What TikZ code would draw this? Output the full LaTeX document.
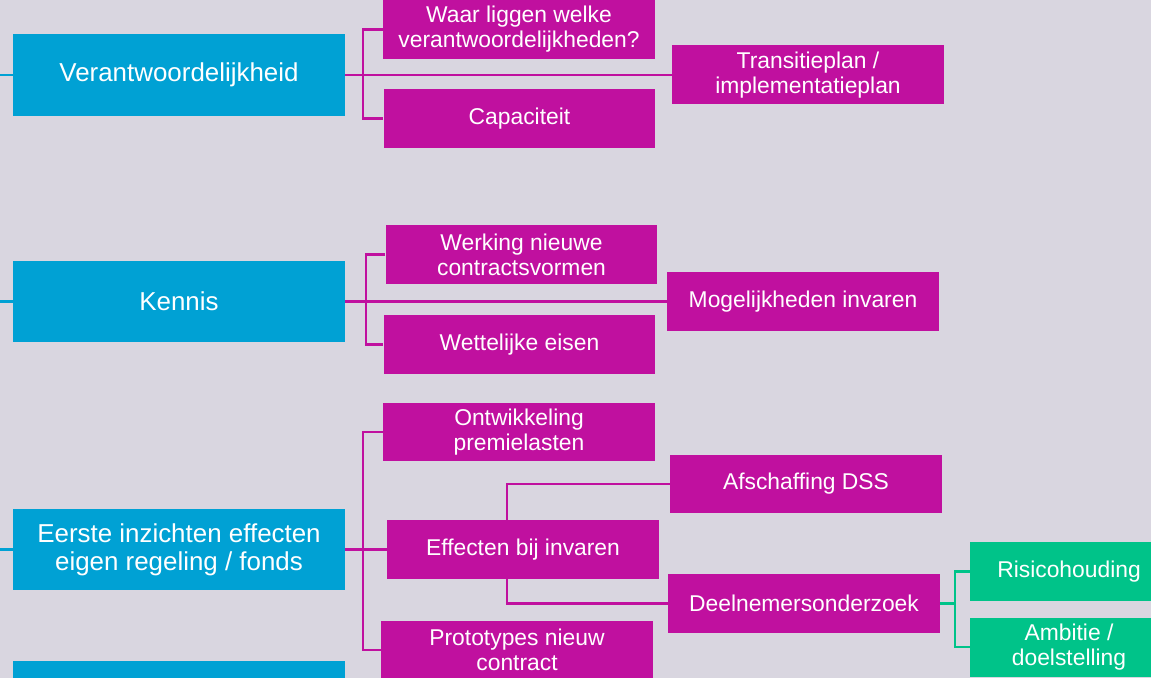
\documentclass[tikz,border=0pt]{standalone}
\usepackage{fontspec}
\setmainfont{Liberation Sans}
\definecolor{achter}{RGB}{217,214,224}
\definecolor{blauw}{RGB}{0,161,212}
\definecolor{paars}{RGB}{192,16,159}
\definecolor{groen}{RGB}{0,195,137}
\begin{document}
\begin{tikzpicture}[
  x=0.02cm, y=-0.02cm,
  bluebox/.style={rectangle, fill=blauw, text=white, inner sep=0pt, align=center,
    minimum width=6.64cm, minimum height=1.64cm, font=\fontsize{14.75}{15.9}\selectfont},
  pinkbox/.style={rectangle, fill=paars, text=white, inner sep=0pt, align=center,
    minimum width=5.44cm, minimum height=1.18cm, font=\fontsize{13}{14.2}\selectfont},
  greenbox/.style={pinkbox, fill=groen, minimum width=3.96cm},
  bluelink/.style={line width=1.4pt, draw=blauw},
  pinklink/.style={line width=1.4pt, draw=paars},
  greenlink/.style={line width=1.4pt, draw=groen}
]

  % Achtergrond en kader
  \clip (0,0) rectangle (1151,678);
  \fill[achter] (0,0) rectangle (1151,678);

  % Hoofdthema's
  \node[bluebox] (b1) at (179,75) {Verantwoordelijkheid};
  \node[bluebox] (b2) at (179,301.5) {Kennis};
  \node[bluebox] (b3) at (179,549.5) {Eerste inzichten effecten\\eigen regeling / fonds};
  \node[bluebox] (b4) at (179,702) {};

  % Deelonderwerpen
  \node[pinkbox] (waar) at (519,29.5) {Waar liggen welke\\verantwoordelijkheden?};
  \node[pinkbox] (capa) at (519.5,118.5) {Capaciteit};
  \node[pinkbox] (trans) at (808,75) {Transitieplan /\\implementatieplan};

  \node[pinkbox] (werk) at (521.5,254.5) {Werking nieuwe\\contractsvormen};
  \node[pinkbox] (wett) at (519.5,344.5) {Wettelijke eisen};
  \node[pinkbox] (moge) at (803,301.5) {Mogelijkheden invaren};

  \node[pinkbox] (ontw) at (519,432) {Ontwikkeling\\premielasten};
  \node[pinkbox] (eff) at (523,549.5) {Effecten bij invaren};
  \node[pinkbox] (proto) at (517,650) {Prototypes nieuw\\contract};
  \node[pinkbox] (afsch) at (806,484) {Afschaffing DSS};
  \node[pinkbox] (deel) at (804,603.5) {Deelnemersonderzoek};

  \node[greenbox] (risi) at (1069,571.5) {Risicohouding};
  \node[greenbox] (ambi) at (1069,647) {Ambitie /\\doelstelling};

  % Hulppunten voor de vertakkingen
  \coordinate (l1) at (0,75);
  \coordinate (l2) at (0,301.5);
  \coordinate (l3) at (0,549.5);
  \coordinate (l4) at (0,702);
  \coordinate (j1) at (363,75);
  \coordinate (j2) at (366,301.5);
  \coordinate (j3) at (363,549.5);
  \coordinate (e1) at (507,0);
  \coordinate (g1) at (955,603.5);

  % Verbindingen
  \draw[bluelink] (l1) -- (b1);
  \draw[bluelink] (l2) -- (b2);
  \draw[bluelink] (l3) -- (b3);
  \draw[bluelink] (l4) -- (b4);

  \draw[pinklink] (b1.east) -- (trans.west);
  \draw[pinklink] (waar.west) -| (j1) |- (capa.west);

  \draw[pinklink] (b2.east) -- (moge.west);
  \draw[pinklink] (werk.west) -| (j2) |- (wett.west);

  \draw[pinklink] (b3.east) -- (eff.west);
  \draw[pinklink] (ontw.west) -| (j3) |- (proto.west);
  \draw[pinklink] (afsch.west) -| (eff.north -| e1);
  \draw[pinklink] (eff.south -| e1) |- (deel.west);

  \draw[greenlink] (deel.east) -- (g1);
  \draw[greenlink] (risi.west) -| (g1) |- (ambi.west);

\end{tikzpicture}
\end{document}
